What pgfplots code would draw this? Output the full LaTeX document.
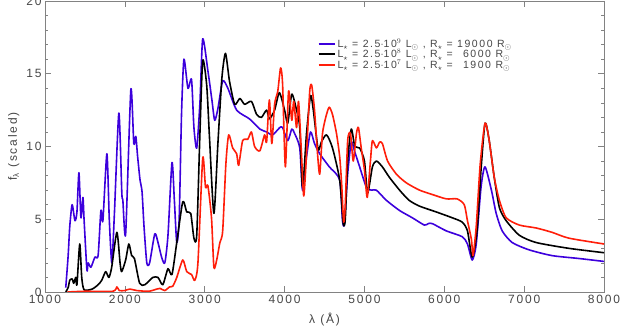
\documentclass[border=0pt]{standalone}
\usepackage{pgfplots}
\pgfplotsset{compat=1.18}
\usepackage{fontspec}
\setmainfont{Liberation Sans}[LetterSpace=15]
\definecolor{myblue}{RGB}{60,0,220}
\definecolor{myred}{RGB}{255,30,10}
\definecolor{axgray}{RGB}{130,130,130}
\definecolor{txtgray}{RGB}{70,70,70}
\newcommand{\sub}[1]{\raisebox{-2.5pt}{\footnotesize$#1$}}
\begin{document}
\begin{tikzpicture}
\begin{axis}[name=ax, scale only axis, width=559pt, height=291pt,
  xmin=1000, xmax=8000, ymin=0, ymax=20,
  xtick={1000,2000,...,8000}, ytick={0,5,...,20}, minor y tick num=4,
  tick align=inside, major tick length=6pt, minor tick length=3pt,
  axis line style={axgray, line width=0.8pt}, every tick/.style={axgray, line width=0.6pt},
  tick label style={font=\fontsize{12}{13}\selectfont, text=txtgray},
  /pgf/number format/assume math mode=true,
  /pgf/number format/1000 sep={},
  xlabel={λ (Å)}, ylabel={f\textsubscript{λ} (scaled)},
  xlabel style={yshift=-2pt},
  label style={font=\fontsize{12}{13}\selectfont, text=txtgray},
  legend style={at={(0.482,0.885)}, anchor=north west, draw=none, fill=none,
    font=\fontsize{10.5}{11}\selectfont, text=txtgray, row sep=-3.5pt},
  legend cell align=left,
  legend image code/.code={\draw[#1, line width=2pt] (0pt,0pt) -- (16pt,0pt);},
  every axis plot/.append style={line width=1.6pt, line join=round, smooth, tension=0.4},
]
\addplot[myblue] coordinates {(1260,0.3)(1290,2.5)(1310,4.5)(1340,6.0)(1375,4.9)(1400,5.5)(1425,8.2)(1450,5.1)(1475,6.5)(1490,4.9)(1525,1.5)(1540,2.0)(1575,1.7)(1625,2.4)(1665,2.5)(1700,5.6)(1725,4.9)(1775,9.5)(1805,5.0)(1837,2.0)(1870,5.5)(1925,12.3)(1962,6.8)(1975,6.3)(2010,4.0)(2075,13.9)(2112,10.2)(2137,10.7)(2160,9.3)(2190,7.7)(2215,6.9)(2240,4.5)(2275,2.0)(2310,2.0)(2375,4.0)(2415,3.4)(2460,2.4)(2500,2.0)(2540,3.9)(2590,8.9)(2620,6.3)(2650,3.4)(2680,5.0)(2710,12.3)(2740,16.0)(2790,14.0)(2835,14.6)(2865,11.3)(2900,9.9)(2940,13.0)(2975,17.4)(3040,15.2)(3090,13.2)(3125,11.8)(3165,12.6)(3225,14.5)(3290,14.0)(3400,12.5)(3560,11.9)(3690,11.2)(3775,11.0)(3850,10.8)(3940,11.3)(3975,11.3)(4040,10.4)(4090,11.2)(4125,10.9)(4190,9.9)(4225,7.0)(4275,9.3)(4325,11.0)(4375,10.2)(4440,9.5)(4560,8.6)(4690,7.7)(4725,4.9)(4750,4.7)(4790,8.1)(4835,10.3)(4875,9.7)(4940,8.6)(5025,7.2)(5090,7.0)(5150,7.0)(5275,6.3)(5440,5.6)(5600,5.1)(5750,4.6)(5800,4.7)(5850,4.7)(6025,4.2)(6225,3.8)(6290,3.3)(6350,2.2)(6400,3.3)(6460,7.2)(6510,8.6)(6590,7.0)(6650,5.4)(6725,4.2)(6850,3.4)(7060,2.9)(7350,2.5)(7690,2.3)(8000,2.1)};
\addlegendentry{L\sub{\star} = 2.5$\cdot$10$^9$ L\sub{\odot} , R\sub{\star} = 19000 R\sub{\odot}}
\addplot[black] coordinates {(1260,0.0)(1290,0.3)(1310,0.8)(1340,0.9)(1360,0.6)(1385,1.0)(1400,0.5)(1435,3.3)(1460,1.0)(1490,0.15)(1590,0.2)(1665,0.5)(1710,0.8)(1760,1.4)(1800,1.0)(1835,1.7)(1900,4.1)(1940,2.0)(1960,1.4)(2010,2.2)(2050,3.3)(2085,2.5)(2120,2.3)(2185,0.6)(2250,0.5)(2350,1.0)(2415,1.0)(2475,0.5)(2540,1.6)(2590,1.2)(2650,3.4)(2725,6.2)(2775,5.5)(2825,5.4)(2865,3.7)(2900,3.9)(2940,10.9)(2975,15.9)(3025,14.2)(3060,10.6)(3115,5.4)(3165,10.2)(3215,14.7)(3260,16.4)(3310,14.5)(3375,12.9)(3440,13.3)(3500,12.9)(3585,13.1)(3650,12.2)(3710,12.0)(3775,12.5)(3810,11.9)(3875,12.5)(3935,13.7)(4000,12.5)(4040,11.6)(4090,13.6)(4150,12.5)(4190,11.3)(4225,7.2)(4275,10.9)(4325,13.5)(4360,12.5)(4420,9.8)(4460,10.3)(4525,10.8)(4600,9.9)(4690,7.7)(4735,4.7)(4760,5.0)(4790,9.0)(4835,11.2)(4880,10.0)(4940,9.9)(5000,9.0)(5040,6.8)(5100,8.6)(5150,9.0)(5225,8.6)(5310,7.9)(5440,7.0)(5560,6.3)(5690,5.9)(5900,5.5)(6100,5.1)(6225,4.8)(6290,4.2)(6350,2.4)(6410,4.2)(6460,8.4)(6510,11.6)(6560,10.5)(6625,7.9)(6690,5.8)(6775,4.9)(6940,3.9)(7150,3.4)(7560,3.0)(8000,2.7)};
\addlegendentry{L\sub{\star} = 2.5$\cdot$10$^8$ L\sub{\odot} , R\sub{\star} = \phantom{1}6000 R\sub{\odot}}
\addplot[myred] coordinates {(1280,0)(1500,0.05)(1850,0.05)(1900,0.35)(1930,0.1)(2000,0.1)(2060,0.2)(2150,0.1)(2300,0.05)(2400,0.2)(2440,0.25)(2500,0.1)(2560,0.35)(2600,0.4)(2650,1.0)(2725,2.2)(2775,1.4)(2835,1.2)(2875,0.8)(2915,2.0)(2975,9.2)(3010,7.2)(3040,7.3)(3085,5.1)(3115,1.7)(3150,2.2)(3190,3.4)(3225,4.2)(3265,8.8)(3300,10.8)(3350,9.9)(3400,9.5)(3425,8.7)(3475,10.4)(3540,10.5)(3585,11.0)(3625,10.0)(3690,9.7)(3750,10.8)(3775,10.3)(3810,13.2)(3840,10.2)(3875,12.9)(3915,13.8)(3950,15.4)(3975,14.3)(4010,8.6)(4050,13.8)(4090,11.8)(4115,13.1)(4150,11.3)(4175,13.1)(4210,9.7)(4240,6.6)(4275,9.5)(4315,13.8)(4340,14.2)(4375,12.5)(4410,9.7)(4440,8.1)(4475,10.9)(4525,12.2)(4560,12.7)(4600,12.2)(4650,10.9)(4690,9.3)(4715,7.4)(4740,4.8)(4760,6.0)(4790,10.4)(4825,10.9)(4860,9.0)(4900,10.9)(4925,11.3)(4960,9.9)(5000,8.4)(5035,6.5)(5075,9.0)(5100,10.4)(5150,9.9)(5190,10.3)(5225,10.2)(5290,9.0)(5400,8.1)(5525,7.5)(5690,7.0)(5850,6.7)(6025,6.4)(6160,6.4)(6250,6.0)(6290,4.9)(6340,3.6)(6360,2.5)(6400,4.5)(6450,8.8)(6510,11.6)(6560,10.5)(6625,7.9)(6690,6.3)(6775,5.1)(6940,4.6)(7150,4.4)(7350,4.1)(7560,3.7)(8000,3.3)};
\addlegendentry{L\sub{\star} = 2.5$\cdot$10$^7$ L\sub{\odot} , R\sub{\star} = \phantom{1}1900 R\sub{\odot}}
\end{axis}
\pgfresetboundingbox
\path[use as bounding box] ([xshift=-45pt,yshift=-41pt]ax.south west) rectangle ([xshift=16pt,yshift=1pt]ax.north east);
\end{tikzpicture}
\end{document}
